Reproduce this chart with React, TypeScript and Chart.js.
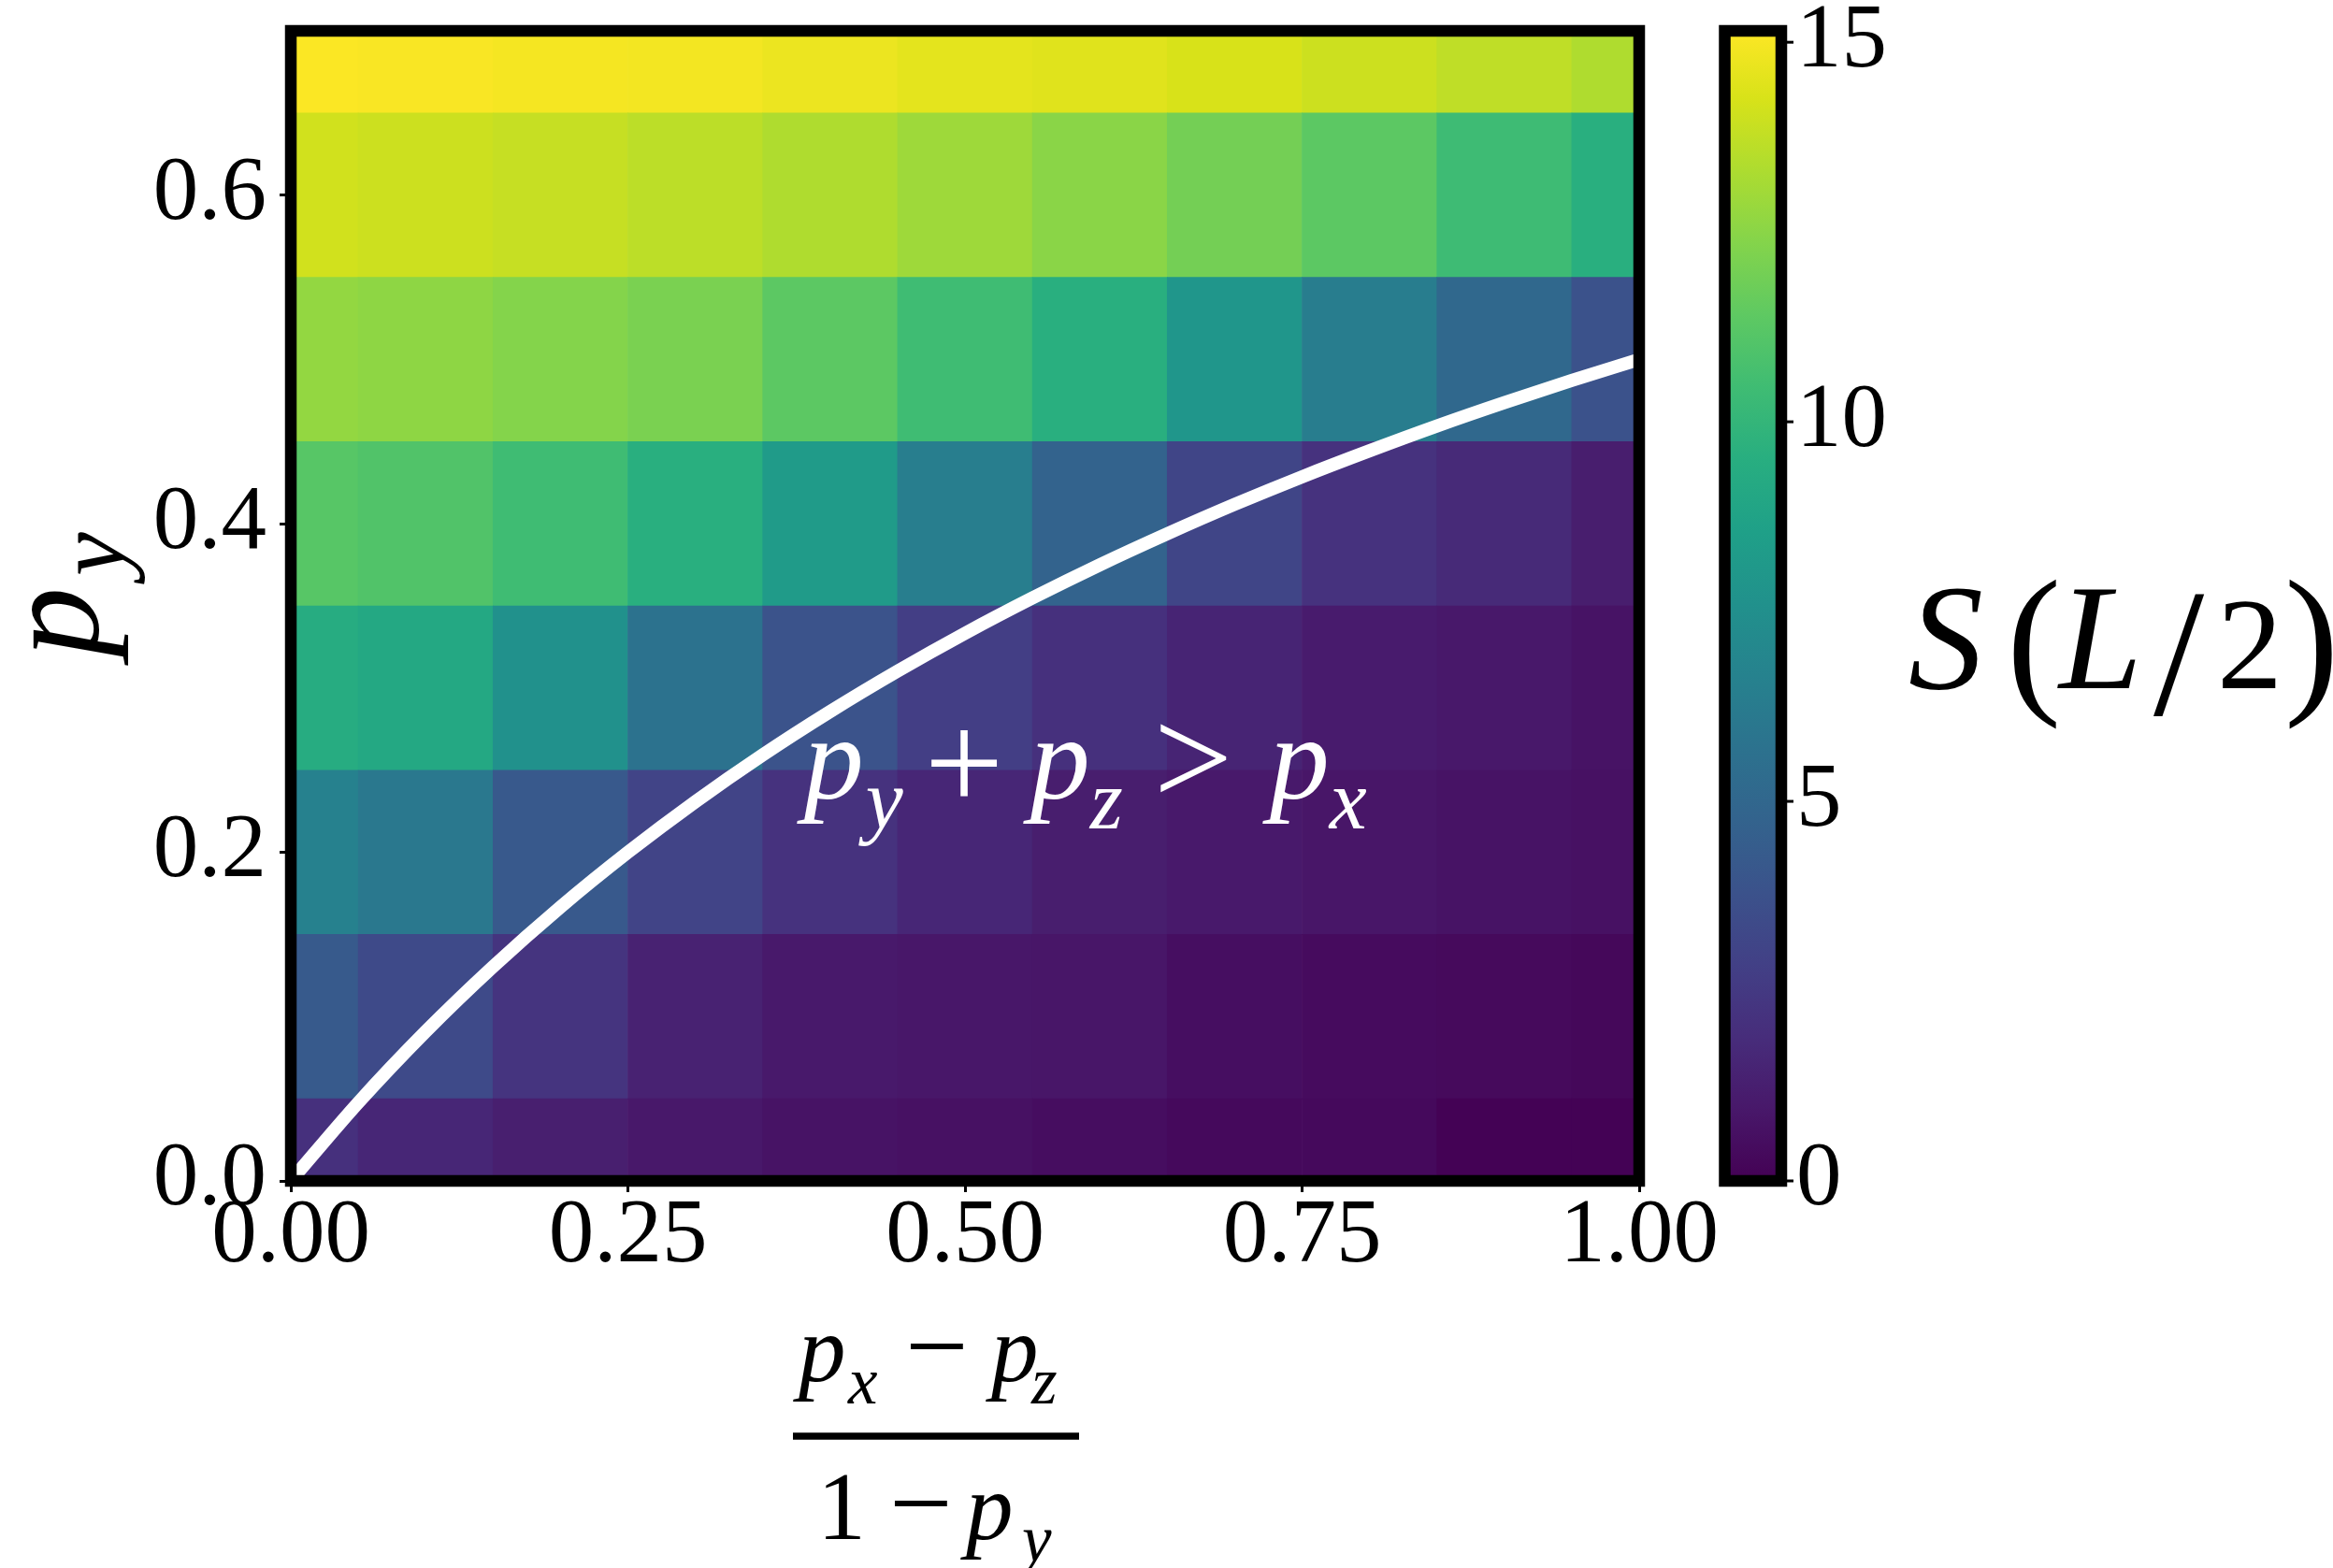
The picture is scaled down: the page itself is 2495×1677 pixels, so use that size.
import React, { useEffect, useRef } from "react";
import { Chart, registerables } from "chart.js";

Chart.register(...registerables);

const W = 2495;
const H = 1677;

// column centres: x = (p_x - p_z) / (1 - p_y)
const xCenters = [0, 0.1, 0.2, 0.3, 0.4, 0.5, 0.6, 0.7, 0.8, 0.9, 1.0];
// row centres: p_y
const yCenters = [0, 0.1, 0.2, 0.3, 0.4, 0.5, 0.6, 0.7];
const cellHalf = 0.05;

// S(L/2) for each row (p_y = 0 ... 0.7), columns left to right
const sRow0 = [2.05, 1.6, 1.25, 0.95, 0.75, 0.65, 0.5, 0.35, 0.33, 0.05, 0.06];
const sRow1 = [4.25, 3.4, 2.25, 1.4, 1.0, 0.9, 0.85, 0.55, 0.42, 0.36, 0.28];
const sRow2 = [6.6, 6.05, 4.2, 3.05, 2.15, 1.6, 1.2, 1.0, 0.85, 0.75, 0.65];
const sRow3 = [9.4, 9.1, 7.6, 5.7, 3.85, 2.75, 2.05, 1.5, 1.1, 0.95, 0.75];
const sRow4 = [11.2, 11.0, 10.45, 9.55, 8.25, 6.4, 4.75, 3.1, 2.15, 1.75, 1.2];
const sRow5 = [12.7, 12.6, 12.35, 12.1, 11.35, 10.45, 9.55, 7.9, 6.35, 5.1, 3.8];
const sRow6 = [14.1, 14.0, 13.85, 13.65, 13.35, 12.95, 12.5, 11.95, 11.35, 10.4, 9.55];
const sRow7 = [15.1, 15.05, 14.95, 14.9, 14.75, 14.55, 14.45, 14.25, 14.0, 13.7, 13.35];
const sRows = [sRow0, sRow1, sRow2, sRow3, sRow4, sRow5, sRow6, sRow7];

// boundary curve p_y + p_z = p_x
const curveX = [0, 0.05, 0.1, 0.15, 0.2, 0.25, 0.3, 0.35, 0.4, 0.45, 0.5, 0.55, 0.6, 0.65, 0.7, 0.75, 0.8, 0.85, 0.9, 0.95, 1.0];
const curveY = [0, 0.0476, 0.0909, 0.1304, 0.1667, 0.2, 0.2308, 0.2593, 0.2857, 0.3103, 0.3333, 0.3548, 0.375, 0.3939, 0.4118, 0.4286, 0.4444, 0.4595, 0.4737, 0.4872, 0.5];

// axes
const xMin = 0;
const xMax = 1;
const yMin = 0;
const yMax = 0.7;
const xTickValues = [0, 0.25, 0.5, 0.75, 1.0];
const yTickValues = [0, 0.2, 0.4, 0.6];
const cbMin = 0;
const cbMax = 15.15;
const cbTickValues = [0, 5, 10, 15];

// annotation anchor (data coordinates)
const annotX = 0.375;
const annotY = 0.233;

const VIRIDIS = [
  "#440154", "#48186a", "#472d7b", "#424086", "#3b528b", "#33638d", "#2c728e", "#26828e",
  "#21918c", "#1fa088", "#28ae80", "#3fbc73", "#5ec962", "#84d44b", "#addc30", "#d8e219", "#fde725",
];
const stopPos = (i: number) => (i < 16 ? i * 16 : 255) / 255;
const hexRgb = (h: string) => [parseInt(h.slice(1, 3), 16), parseInt(h.slice(3, 5), 16), parseInt(h.slice(5, 7), 16)];
function viridis(t: number) {
  const tt = Math.min(1, Math.max(0, t));
  const idx = tt * 255;
  const seg = Math.min(15, Math.floor(idx / 16));
  const a = seg * 16;
  const b = seg === 15 ? 255 : (seg + 1) * 16;
  const f = (idx - a) / (b - a);
  const c0 = hexRgb(VIRIDIS[seg]);
  const c1 = hexRgb(VIRIDIS[seg + 1]);
  const c = c0.map((v, k) => Math.round(v + (c1[k] - v) * f));
  return `rgb(${c[0]},${c[1]},${c[2]})`;
}

const SERIF = "'Liberation Serif', 'Times New Roman', serif";

type Glyph = { t: string; size: number; it?: boolean; x: number; dy: number };

function drawRun(ctx: CanvasRenderingContext2D, run: Glyph[], ox: number, oy: number, color: string, rotate = false) {
  ctx.save();
  ctx.translate(ox, oy);
  if (rotate) ctx.rotate(-Math.PI / 2);
  ctx.textAlign = "left";
  ctx.textBaseline = "alphabetic";
  ctx.fillStyle = color;
  for (const g of run) {
    ctx.font = `${g.it ? "italic " : ""}${g.size}px ${SERIF}`;
    const m = ctx.measureText(g.t);
    ctx.fillText(g.t, g.x + m.actualBoundingBoxLeft, g.dy);
  }
  ctx.restore();
}

const annotRun: Glyph[] = [
  { t: "p", size: 128, it: true, x: 0, dy: 0 },
  { t: "y", size: 90, it: true, x: 66, dy: 32 },
  { t: "+", size: 150, x: 144, dy: 12 },
  { t: "p", size: 128, it: true, x: 242, dy: 0 },
  { t: "z", size: 90, it: true, x: 312, dy: 32 },
  { t: ">", size: 150, x: 389, dy: 7 },
  { t: "p", size: 128, it: true, x: 498, dy: 0 },
  { t: "x", size: 90, it: true, x: 568, dy: 32 },
];

const fracRun: Glyph[] = [
  { t: "p", size: 101, it: true, x: 0, dy: -59 },
  { t: "x", size: 71, it: true, x: 58, dy: -35 },
  { t: "\u2212", size: 120, x: 125, dy: -56 },
  { t: "p", size: 101, it: true, x: 206, dy: -59 },
  { t: "z", size: 71, it: true, x: 254, dy: -35 },
  { t: "1", size: 104, x: 35, dy: 110 },
  { t: "\u2212", size: 120, x: 108, dy: 112 },
  { t: "p", size: 101, it: true, x: 179, dy: 110 },
  { t: "y", size: 71, it: true, x: 239, dy: 134 },
];

const yLabelRun: Glyph[] = [
  { t: "p", size: 150, it: true, x: 0, dy: 0 },
  { t: "y", size: 105, it: true, x: 87, dy: 27 },
];

const cbLabelRun: Glyph[] = [
  { t: "S", size: 160, it: true, x: 0, dy: 0 },
  { t: "(", size: 175, x: 111, dy: 6 },
  { t: "L", size: 160, it: true, x: 158, dy: 0 },
  { t: "/", size: 195, x: 261, dy: 28 },
  { t: "2", size: 140, x: 335, dy: 0 },
  { t: ")", size: 175, x: 406, dy: 6 },
];

const decorPlugin = {
  id: "decor",
  afterDatasetsDraw(chart: any) {
    const ctx: CanvasRenderingContext2D = chart.ctx;
    const a = chart.chartArea;
    const xs = chart.scales.x;
    const ys = chart.scales.y;
    // annotation
    drawRun(ctx, annotRun, xs.getPixelForValue(annotX), ys.getPixelForValue(annotY), "#ffffff");
    // frame
    ctx.save();
    ctx.strokeStyle = "#000";
    ctx.lineWidth = 12.5;
    ctx.strokeRect(a.left, a.top, a.right - a.left, a.bottom - a.top);
    ctx.restore();
  },
  afterDraw(chart: any) {
    const ctx: CanvasRenderingContext2D = chart.ctx;
    const a = chart.chartArea;
    const cb = chart.scales.cb;
    // colorbar
    const xL = a.right + 91.5;
    const xR = a.right + 152;
    const top = cb.getPixelForValue(cbMax);
    const bot = cb.getPixelForValue(cbMin);
    ctx.save();
    const grad = ctx.createLinearGradient(0, bot, 0, top);
    for (let i = 0; i < VIRIDIS.length; i++) grad.addColorStop(stopPos(i), VIRIDIS[i]);
    ctx.fillStyle = grad;
    ctx.fillRect(xL, top, xR - xL, bot - top);
    ctx.strokeStyle = "#000";
    ctx.lineWidth = 12.5;
    ctx.strokeRect(xL, top, xR - xL, bot - top);
    ctx.lineWidth = 3;
    for (const v of cbTickValues) {
      const y = cb.getPixelForValue(v);
      ctx.beginPath();
      ctx.moveTo(xR, y);
      ctx.lineTo(xR + 13, y);
      ctx.stroke();
    }
    ctx.restore();
    // labels
    const cx = (a.left + a.right) / 2;
    drawRun(ctx, fracRun, cx - 184, a.bottom + 273, "#000");
    ctx.save();
    ctx.fillStyle = "#000";
    ctx.fillRect(cx - 184, a.bottom + 273 - 3.75, 306, 7.5);
    ctx.restore();
    drawRun(ctx, yLabelRun, a.left - 206, (a.top + a.bottom) / 2 + 64, "#000", true);
    drawRun(ctx, cbLabelRun, a.right + 289, 736, "#000");
  },
};

const tickFont = { family: SERIF, size: 97, lineHeight: 1 };

const zeroPad = (s: any) => {
  s.paddingTop = 0;
  s.paddingBottom = 0;
  s.paddingLeft = 0;
  s.paddingRight = 0;
};

export default function App() {
  const ref = useRef<HTMLCanvasElement>(null);
  useEffect(() => {
    const canvas = ref.current;
    if (!canvas) return;
    const datasets: any[] = sRows.map((vals, r) => ({
      type: "bar",
      label: `p_y = ${yCenters[r]}`,
      data: xCenters.map((x) => ({ x, y: [yCenters[r] - cellHalf, yCenters[r] + cellHalf] })),
      backgroundColor: vals.map((v) => viridis((v - cbMin) / (cbMax - cbMin))),
      borderWidth: 0,
      grouped: false,
      barPercentage: 1,
      categoryPercentage: 1,
      clip: 0,
      order: 1,
    }));
    datasets.push({
      type: "line",
      label: "boundary",
      data: curveX.map((x, i) => ({ x, y: curveY[i] })),
      borderColor: "#ffffff",
      borderWidth: 14,
      pointRadius: 0,
      cubicInterpolationMode: "monotone",
      fill: false,
      clip: 0,
      order: 0,
    });
    const chart = new Chart(canvas, {
      type: "bar",
      data: { datasets },
      plugins: [decorPlugin],
      options: {
        responsive: false,
        animation: false,
        devicePixelRatio: 1,
        layout: { padding: { top: 33, left: 0, right: 0, bottom: 0 } },
        plugins: { legend: { display: false }, tooltip: { enabled: false }, title: { display: false } },
        scales: {
          x: {
            type: "linear",
            position: "bottom",
            min: xMin,
            max: xMax,
            offset: false,
            afterBuildTicks: (s: any) => {
              s.ticks = xTickValues.map((value) => ({ value }));
            },
            afterFit: (s: any) => {
              s.height = H - 1263;
              zeroPad(s);
            },
            grid: { offset: false, drawOnChartArea: false, drawTicks: true, tickLength: 12, tickWidth: 3, tickColor: "#000" },
            border: { display: false },
            ticks: {
              font: tickFont,
              color: "#000",
              padding: 0,
              maxRotation: 0,
              autoSkip: false,
              callback: (v: any) => Number(v).toFixed(2),
            },
          },
          y: {
            type: "linear",
            position: "left",
            min: yMin,
            max: yMax,
            afterBuildTicks: (s: any) => {
              s.ticks = yTickValues.map((value) => ({ value }));
            },
            afterFit: (s: any) => {
              s.width = 311;
              zeroPad(s);
            },
            grid: { drawOnChartArea: false, drawTicks: true, tickLength: 12, tickWidth: 3, tickColor: "#000" },
            border: { display: false },
            ticks: {
              font: tickFont,
              color: "#000",
              padding: 14,
              autoSkip: false,
              callback: (v: any) => Number(v).toFixed(1),
            },
          },
          cb: {
            type: "linear",
            position: "right",
            min: cbMin,
            max: cbMax,
            afterBuildTicks: (s: any) => {
              s.ticks = cbTickValues.map((value) => ({ value }));
            },
            afterFit: (s: any) => {
              s.width = W - 1753;
              zeroPad(s);
            },
            grid: { drawOnChartArea: false, drawTicks: false },
            border: { display: false },
            ticks: {
              font: tickFont,
              color: "#000",
              padding: 168,
              autoSkip: false,
              callback: (v: any) => String(v),
            },
          },
        },
      } as any,
    } as any);
    return () => chart.destroy();
  }, []);
  return (
    <div style={{ position: "absolute", left: 0, top: 0, width: W, height: H, background: "#fff" }}>
      <canvas ref={ref} width={W} height={H} style={{ display: "block", width: W, height: H }} />
    </div>
  );
}
